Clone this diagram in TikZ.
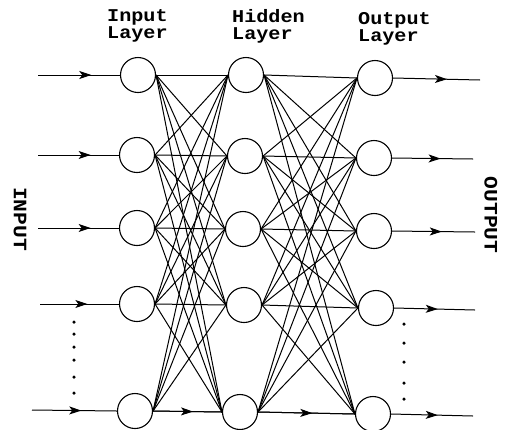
\documentclass[tikz,border=0pt]{standalone}
\usepackage{fontspec}
\setmonofont[FakeStretch=1.12]{Liberation Mono}
\usetikzlibrary{arrows.meta,decorations.markings}
\tikzset{
  neuron/.style={circle,draw,line width=1.1pt,minimum size=35pt,inner sep=0pt},
  conn/.style={line width=1pt},
  lbl/.style={font=\ttfamily\bfseries\fontsize{18}{17}\selectfont, align=left, anchor=north west, inner sep=0pt},
  side/.style={font=\ttfamily\bfseries\fontsize{19}{19}\selectfont, rotate=-90, inner sep=0pt},
  midarrow/.style={postaction={decorate},decoration={markings,mark=at position #1 with {\arrow{Stealth[length=12pt,width=8pt,inset=3pt]}}}},
  dotmark/.style={circle,fill,inner sep=0pt,minimum size=3.5pt}
}
\begin{document}
\begin{tikzpicture}[x=1pt,y=-1pt]
\useasboundingbox (0,0) rectangle (505,429);
% labels
\node[lbl] (lin) at (107,9) {Input\\Layer};
\node[lbl] (lhid) at (232,9) {Hidden\\Layer};
\node[lbl] (lout) at (358,12) {Output\\Layer};
\node[side] (tin) at (20,219) {INPUT};
\node[side] (tout) at (491,215) {OUTPUT};
% neurons
\node[neuron] (i1) at (138,75) {};
\node[neuron] (i2) at (137,155) {};
\node[neuron] (i3) at (137,228) {};
\node[neuron] (i4) at (137,304) {};
\node[neuron] (i5) at (135,411) {};
\node[neuron] (h1) at (246,75) {};
\node[neuron] (h2) at (245,156) {};
\node[neuron] (h3) at (243,229) {};
\node[neuron] (h4) at (244,305) {};
\node[neuron] (h5) at (240,412) {};
\node[neuron] (o1) at (375,78) {};
\node[neuron] (o2) at (374,158) {};
\node[neuron] (o3) at (374,231) {};
\node[neuron] (o4) at (376,308) {};
\node[neuron] (o5) at (373,414) {};
% input line starts
\coordinate (s1) at (38,75);
\coordinate (s2) at (38,155);
\coordinate (s3) at (38,228);
\coordinate (s4) at (40,304);
\coordinate (s5) at (32,410);
% output line ends
\coordinate (e1) at (480,80);
\coordinate (e2) at (473,159);
\coordinate (e3) at (475,232);
\coordinate (e4) at (475,310);
\coordinate (e5) at (473,416);
% input arrows
\draw[conn,midarrow=0.65] (s1) -- (i1.west);
\draw[conn,midarrow=0.65] (s2) -- (i2.west);
\draw[conn,midarrow=0.65] (s3) -- (i3.west);
\draw[conn,midarrow=0.6] (s4) -- (i4.west);
\draw[conn,midarrow=0.58] (s5) -- (i5.west);
% output arrows
\draw[conn,midarrow=0.62] (o1.east) -- (e1);
\draw[conn,midarrow=0.6] (o2.east) -- (e2);
\draw[conn,midarrow=0.6] (o3.east) -- (e3);
\draw[conn,midarrow=0.54] (o4.east) -- (e4);
\draw[conn,midarrow=0.57] (o5.east) -- (e5);
% full connections
\foreach \a in {1,...,5}{
  \foreach \b in {1,...,5}{
    \draw[conn] (i\a.east) -- (h\b.west);
    \draw[conn] (h\a.east) -- (o\b.west);
  }
}
\draw[conn,midarrow=0.58] (i5.east) -- (h5.west);
\draw[conn,midarrow=0.56] (h5.east) -- (o5.west);
% ellipsis dots
\foreach \y [count=\k] in {322,334,347,360,377,393}{
  \node[dotmark] (di\k) at (74,\y) {};
}
\foreach \y [count=\k] in {324,343,362,383,399}{
  \node[dotmark] (do\k) at (404,\y) {};
}
\end{tikzpicture}
\end{document}
